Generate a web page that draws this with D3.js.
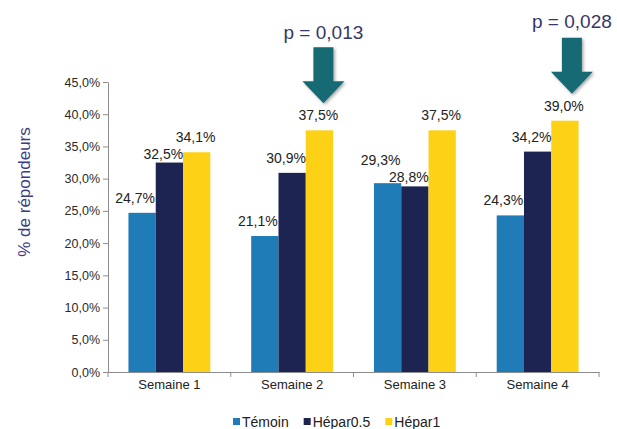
<!DOCTYPE html>
<html><head><meta charset="utf-8">
<script src="https://cdn.jsdelivr.net/npm/d3@7/dist/d3.min.js"></script>
<style>body{margin:0;background:#fff}svg{display:block;font-family:"Liberation Sans",Arial,sans-serif}</style>
</head><body>
<script>
const categories = ["Semaine 1","Semaine 2","Semaine 3","Semaine 4"];
const seriesNames = ["Témoin","Hépar0.5","Hépar1"];
const temoin = [0.247,0.211,0.293,0.243];
const hepar05 = [0.325,0.309,0.288,0.342];
const hepar1 = [0.341,0.375,0.375,0.390];
const yTicks = [0,0.05,0.10,0.15,0.20,0.25,0.30,0.35,0.40,0.45];
const annotations = [{cat:"Semaine 2", text:"p = 0,013"},{cat:"Semaine 4", text:"p = 0,028"}];

const colors = ["#1f7cb6","#1d2452","#fdd116"];
const labelDx = [-7,-6,-1];
const W=617,H=429;
const svg=d3.select("body").append("svg").attr("width",W).attr("height",H);
const fmt = v => d3.format(".1f")(v*100).replace(".",",")+"%";

const x=d3.scaleBand().domain(categories).range([108,599]);
const x1=d3.scaleBand().domain(seriesNames).range([0,x.bandwidth()]).paddingOuter(0.75);
const y=d3.scaleLinear().domain([0,0.45]).range([372,82]);
const seriesVals=[temoin,hepar05,hepar1];

// y axis
const ya=svg.append("g").attr("transform","translate(108,0)")
  .call(d3.axisLeft(y).tickValues(yTicks).tickSize(5).tickSizeOuter(0).tickFormat(fmt));
ya.select(".domain").attr("stroke","#8c8c8c");
ya.selectAll(".tick line").attr("stroke","#8c8c8c");
ya.selectAll(".tick text").attr("fill","#2b2b2b").attr("font-size",12.5).attr("font-family","'Liberation Sans', Arial").attr("x",-8);

// label vertical positions with simple collision avoidance
const labelY = seriesVals.map(vals=>vals.map(v=>y(v)-10));
categories.forEach((c,j)=>{
  for(let i=0;i<seriesNames.length-1;i++){
    if(Math.abs(labelY[i][j]-labelY[i+1][j])<14){
      if(labelY[i][j]<=labelY[i+1][j]){labelY[i+1][j]=y(seriesVals[i+1][j])-4;labelY[i][j]=Math.min(labelY[i][j],labelY[i+1][j]-17);}
      else{labelY[i][j]=y(seriesVals[i][j])-4;labelY[i+1][j]=Math.min(labelY[i+1][j],labelY[i][j]-17);}
    }
  }
});

// bars
seriesNames.forEach((s,i)=>{
  const g=svg.append("g");
  g.selectAll("rect").data(categories).join("rect")
    .attr("x",c=>x(c)+x1(s)).attr("width",x1.bandwidth())
    .attr("y",(c,j)=>y(seriesVals[i][j])).attr("height",(c,j)=>y(0)-y(seriesVals[i][j]))
    .attr("fill",colors[i]);
});
seriesNames.forEach((s,i)=>{
  svg.append("g").selectAll("text").data(categories).join("text")
    .attr("x",c=>x(c)+x1(s)+x1.bandwidth()/2+labelDx[i])
    .attr("y",(c,j)=>labelY[i][j])
    .attr("text-anchor","middle").attr("font-size",14).attr("fill","#222")
    .text((c,j)=>fmt(seriesVals[i][j]));
});

// x axis
const xa=svg.append("g").attr("transform","translate(0,372)")
  .call(d3.axisBottom(x).tickSize(0).tickSizeOuter(0));
xa.select(".domain").attr("stroke","#8c8c8c");
xa.selectAll(".tick text").attr("fill","#222").attr("font-size",13).attr("font-family","'Liberation Sans', Arial").attr("dy","1.1em");
const bounds=[108].concat(categories.map(c=>x(c)+x.bandwidth()));
xa.selectAll(".sep").data(bounds).join("line").attr("class","sep")
  .attr("x1",d=>d).attr("x2",d=>d).attr("y1",0).attr("y2",5).attr("stroke","#8c8c8c");

// y title
svg.append("text").attr("transform","translate(30,192) rotate(-90)")
  .attr("text-anchor","middle").attr("font-size",17).attr("fill","#3b3c87").text("% de répondeurs");

// arrows
const defs=svg.append("defs");
const f=defs.append("filter").attr("id","sh").attr("x","-30%").attr("y","-30%").attr("width","160%").attr("height","160%");
f.append("feDropShadow").attr("dx",1.5).attr("dy",1.5).attr("stdDeviation",1.5).attr("flood-color","#000").attr("flood-opacity",0.35);
annotations.forEach((a,k)=>{
  const idx=categories.indexOf(a.cat);
  const cx=x(a.cat)+x1("Hépar1")+x1.bandwidth()/2+(k===0?4:7);
  const tip=y(hepar1[idx])-27;
  const top=tip-56, headY=tip-22;
  const p=`M${cx-10},${top} L${cx+10},${top} L${cx+10},${headY} L${cx+21},${headY} L${cx},${tip} L${cx-21},${headY} L${cx-10},${headY} Z`;
  svg.append("path").attr("d",p).attr("fill","#176b73").attr("filter","url(#sh)");
  svg.append("text").attr("x",cx).attr("y",top-(k===0?8:10)).attr("text-anchor","middle")
    .attr("font-size",19).attr("fill","#36366a").text(a.text);
});

// legend
let lx=233;
const lg=svg.append("g");
seriesNames.forEach((s,i)=>{
  lg.append("rect").attr("x",lx).attr("y",418).attr("width",7).attr("height",7).attr("fill",colors[i]);
  const t=lg.append("text").attr("x",lx+9).attr("y",427).attr("font-size",14).attr("fill","#222").text(s);
  lx+=9+t.node().getComputedTextLength()+15;
});
</script>
</body></html>
